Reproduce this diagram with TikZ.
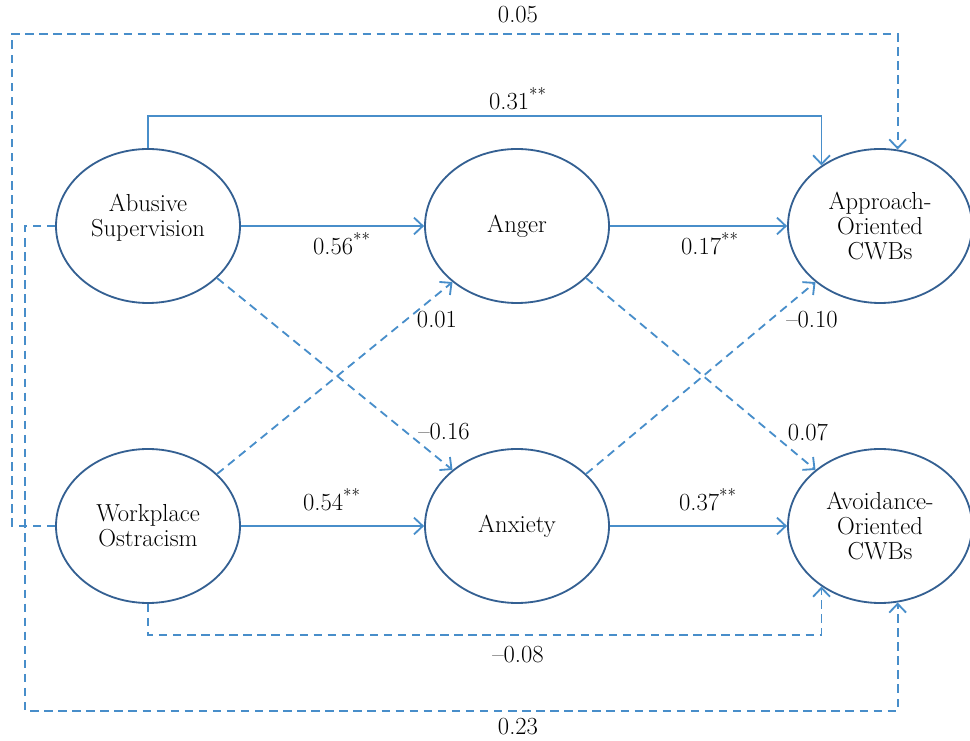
\documentclass[tikz,border=0pt]{standalone}
\usepackage{xcolor}
\usepackage{tikz}
\usetikzlibrary{shapes.geometric, arrows.meta, positioning}
\definecolor{pathblue}{RGB}{72, 142, 202}
\definecolor{ovalblue}{RGB}{52, 96, 146}

\begin{document}
\begin{tikzpicture}[
    >={Straight Barb[length=2.2mm, width=4.2mm]},
    latent/.style={ellipse, draw=ovalblue, line width=1.3pt, minimum width=4.6cm,
      minimum height=3.85cm, inner sep=0pt, align=center,
      font=\fontsize{17.5}{18}\selectfont},
    sigpath/.style={->, draw=pathblue, line width=1.3pt},
    nspath/.style={->, draw=pathblue, line width=1.3pt, dash pattern=on 6pt off 4pt},
    coef/.style={font=\fontsize{17.5}{18}\selectfont}
  ]
    \useasboundingbox (0,0) rectangle (24.25,18.5);
    % latent variables
    \node[latent] (abs) at (3.7,12.85) {Abusive\\Supervision\\[-3pt]};
    \node[latent] (ang) at (12.925,12.85) {Anger};
    \node[latent] (app) at (22.0,12.85) {Approach-\\Oriented\\CWBs};
    \node[latent] (wop) at (3.7,5.35) {Workplace\\Ostracism};
    \node[latent] (anx) at (12.925,5.35) {Anxiety};
    \node[latent] (avd) at (22.0,5.35) {Avoidance-\\Oriented\\CWBs};
    % corners of the outer paths
    \coordinate (topleft) at (0.3,17.65);
    \coordinate (botleft) at (0.625,0.725);
    % significant paths (solid)
    \draw[sigpath] (abs) -- (ang);
    \draw[sigpath] (ang) -- (app);
    \draw[sigpath] (wop) -- (anx);
    \draw[sigpath] (anx) -- (avd);
    \draw[sigpath] (abs.north) -- ++(0,0.8) -| (app.134);
    % non-significant paths (dashed)
    \draw[nspath] (abs.-37) -- (anx.139);
    \draw[nspath] (wop.37) -- (ang.-139);
    \draw[nspath] (ang.-37) -- (avd.139);
    \draw[nspath] (anx.37) -- (app.-139);
    \draw[nspath] (wop.west) -| (topleft) -| (app.77);
    \draw[nspath] (abs.west) -| (botleft) -| (avd.-77);
    \draw[nspath] (wop.south) -- ++(0,-0.78) -| (avd.-134);
    % coefficients
    \node[coef] at (12.95,18.125) {0.05};
    \node[coef] at (12.95,16.025) {0.31\textsuperscript{**}};
    \node[coef] at (8.55,12.4) {0.56\textsuperscript{**}};
    \node[coef] at (17.75,12.4) {0.17\textsuperscript{**}};
    \node[coef] at (10.925,10.5) {0.01};
    \node[coef] at (20.3,10.5) {--0.10};
    \node[coef] at (11.1,7.7) {--0.16};
    \node[coef] at (20.2,7.7) {0.07};
    \node[coef] at (8.3,6.0) {0.54\textsuperscript{**}};
    \node[coef] at (17.7,6.0) {0.37\textsuperscript{**}};
    \node[coef] at (12.95,2.125) {--0.08};
    \node[coef] at (12.95,0.325) {0.23};
  \end{tikzpicture}
\end{document}
